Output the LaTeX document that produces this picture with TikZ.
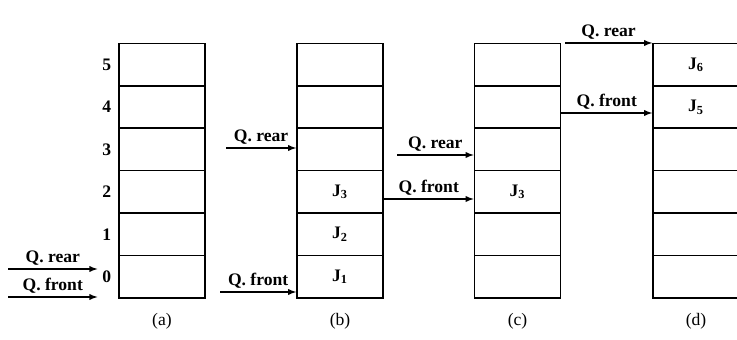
\documentclass[tikz,border=0pt]{standalone}
\usepackage{fontspec}
\setmainfont{Liberation Serif}
\usetikzlibrary{positioning}
\tikzset{cellbox/.style={rectangle, draw=black, line width=1.1pt, minimum width=2.15cm, minimum height=1.06cm, font=\fontsize{12.5}{15}\selectfont\bfseries},
ptr/.style={line width=1pt, -latex},
ptrlabel/.style={above, font=\fontsize{12.5}{15}\selectfont\bfseries, inner sep=2pt},
idxlabel/.style={font=\fontsize{12.5}{15}\selectfont\bfseries},
caplabel/.style={font=\fontsize{12.5}{15}\selectfont},}

\begin{document}
\begin{tikzpicture}[x=0.025cm, y=-0.025cm, node distance=1.06cm]
\useasboundingbox (0,0) rectangle (737,340);
% column (a)
\node [cellbox] (a0) at (162,276.7) {};
\node [cellbox] (a1) [above of=a0] {};
\node [cellbox] (a2) [above of=a1] {};
\node [cellbox] (a3) [above of=a2] {};
\node [cellbox] (a4) [above of=a3] {};
\node [cellbox] (a5) [above of=a4] {};
% column (b)
\node [cellbox] (b0) at (340,276.7) {J\textsubscript{1}};
\node [cellbox] (b1) [above of=b0] {J\textsubscript{2}};
\node [cellbox] (b2) [above of=b1] {J\textsubscript{3}};
\node [cellbox] (b3) [above of=b2] {};
\node [cellbox] (b4) [above of=b3] {};
\node [cellbox] (b5) [above of=b4] {};
% column (c)
\node [cellbox] (c0) at (517.5,276.7) {};
\node [cellbox] (c1) [above of=c0] {};
\node [cellbox] (c2) [above of=c1] {J\textsubscript{3}};
\node [cellbox] (c3) [above of=c2] {};
\node [cellbox] (c4) [above of=c3] {};
\node [cellbox] (c5) [above of=c4] {};
% column (d)
\node [cellbox] (d0) at (696,276.7) {};
\node [cellbox] (d1) [above of=d0] {};
\node [cellbox] (d2) [above of=d1] {};
\node [cellbox] (d3) [above of=d2] {};
\node [cellbox] (d4) [above of=d3] {J\textsubscript{5}};
\node [cellbox] (d5) [above of=d4] {J\textsubscript{6}};
% indices
\node [idxlabel] (n0) [left=0.05cm of a0] {0};
\node [idxlabel] (n1) [left=0.05cm of a1] {1};
\node [idxlabel] (n2) [left=0.05cm of a2] {2};
\node [idxlabel] (n3) [left=0.05cm of a3] {3};
\node [idxlabel] (n4) [left=0.05cm of a4] {4};
\node [idxlabel] (n5) [left=0.05cm of a5] {5};
% captions
\node [caplabel] (capa) [below=0.25cm of a0] {(a)};
\node [caplabel] (capb) [below=0.25cm of b0] {(b)};
\node [caplabel] (capc) [below=0.25cm of c0] {(c)};
\node [caplabel] (capd) [below=0.25cm of d0] {(d)};
% pointers
\coordinate (rearA) at (8,269);
\coordinate (frontA) at (8,297);
\coordinate (rearB) at (226,148);
\coordinate (frontB) at (220,292);
\coordinate (rearC) at (397,155);
\coordinate (rearD) at (565,43);
\draw[ptr] (rearA) -- node[ptrlabel] (lrearA) {Q. rear} (rearA -| n0.west);
\draw[ptr] (frontA) -- node[ptrlabel] (lfrontA) {Q. front} (frontA -| n0.west);
\draw[ptr] (rearB) -- node[ptrlabel] (lrearB) {Q. rear} (rearB -| b3.west);
\draw[ptr] (frontB) -- node[ptrlabel] (lfrontB) {Q. front} (frontB -| b0.west);
\draw[ptr] (rearC) -- node[ptrlabel] (lrearC) {Q. rear} (rearC -| c3.west);
\draw[ptr] (b2.east |- 0,199) -- node[ptrlabel] (lfrontC) {Q. front} (c2.west |- 0,199);
\draw[ptr] (rearD) -- node[ptrlabel] (lrearD) {Q. rear} (rearD -| d5.west);
\draw[ptr] (c4.east |- 0,113) -- node[ptrlabel] (lfrontD) {Q. front} (d4.west |- 0,113);
\end{tikzpicture}
\end{document}
